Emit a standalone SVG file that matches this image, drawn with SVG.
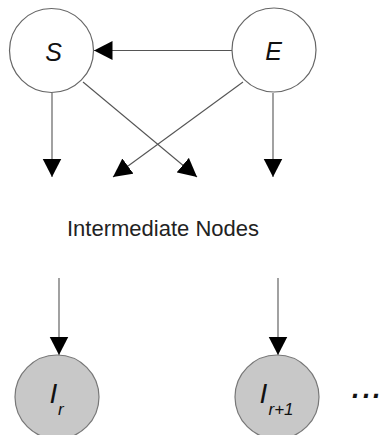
<svg xmlns="http://www.w3.org/2000/svg" width="381" height="435" viewBox="0 0 381 435">
  <style>
    .node-open { fill: #ffffff; stroke: #666666; stroke-width: 1.2; }
    .node-grey { fill: #c8c8c8; stroke: #777777; stroke-width: 1.2; }
    .edge { stroke: #555555; stroke-width: 1.1; fill: none; marker-end: url(#head); }
    .sym { font-family: "Liberation Sans", Arial, sans-serif; font-style: italic; fill: #111111; }
    .caption { font-family: "Liberation Sans", Arial, sans-serif; font-size: 22px; fill: #222222; }
  </style>
  <defs>
    <marker id="head" markerUnits="userSpaceOnUse" markerWidth="19" markerHeight="20" viewBox="0 0 19 20" refX="18.5" refY="10" orient="auto">
      <path d="M0,0.5 L18.5,10 L0,19.5 z" fill="#000000"/>
    </marker>
  </defs>
  <rect width="381" height="435" fill="#ffffff"/>

  <g id="connectors">
    <line class="edge" x1="232" y1="50.5" x2="94" y2="50.5"/>
    <line class="edge" x1="52" y1="93" x2="52" y2="177"/>
    <line class="edge" x1="83" y1="82" x2="197" y2="177"/>
    <line class="edge" x1="243" y1="82" x2="113" y2="177"/>
    <line class="edge" x1="273" y1="93" x2="273" y2="177"/>
    <line class="edge" x1="59" y1="278" x2="59" y2="355"/>
    <line class="edge" x1="278" y1="278" x2="278" y2="355"/>
  </g>

  <g id="node-S">
    <circle class="node-open" cx="51.5" cy="50.5" r="42"/>
    <text class="sym" x="53.5" y="60.5" font-size="25" text-anchor="middle">S</text>
  </g>

  <g id="node-E">
    <circle class="node-open" cx="274" cy="50" r="42"/>
    <text class="sym" x="273.5" y="60" font-size="25" text-anchor="middle">E</text>
  </g>

  <g id="label-intermediate">
    <text class="caption" x="67" y="235.5">Intermediate Nodes</text>
  </g>

  <g id="node-Ir">
    <circle class="node-grey" cx="57" cy="397" r="42"/>
    <text class="sym" x="49.5" y="403" font-size="28">I</text>
    <text class="sym" x="58" y="414.5" font-size="17">r</text>
  </g>

  <g id="node-Ir1">
    <circle class="node-grey" cx="277" cy="397" r="42"/>
    <text class="sym" x="259.5" y="403" font-size="28">I</text>
    <text class="sym" x="268.5" y="414.5" font-size="17">r+1</text>
  </g>

  <g id="ellipsis">
    <text class="sym" y="398" font-size="27" font-weight="bold" x="352 363 373">...</text>
  </g>
</svg>
